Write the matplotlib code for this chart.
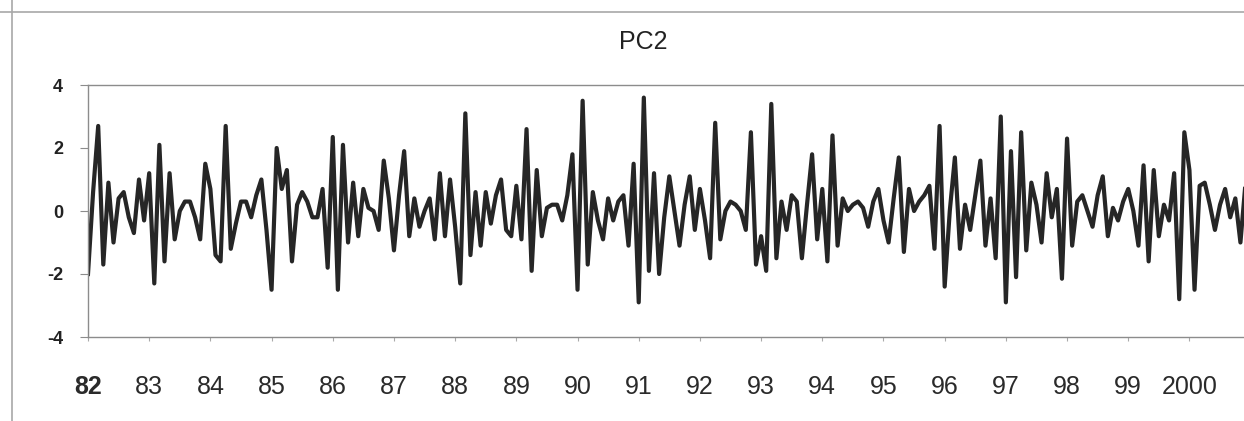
import numpy as np
import matplotlib.pyplot as plt
from matplotlib.lines import Line2D

# Arial-like font, like the scanned Excel chart
plt.rcParams['font.family'] = ['Liberation Sans', 'DejaVu Sans']

# PC2, monthly values (Jan 1982 onward)
pc2_82_85 = [-2.0, 0.6, 2.7, -1.7, 0.9, -1.0, 0.4, 0.6, -0.2, -0.7, 1.0, -0.3,
             1.2, -2.3, 2.1, -1.6, 1.2, -0.9, 0.0, 0.3, 0.3, -0.2, -0.9, 1.5,
             0.7, -1.4, -1.6, 2.7, -1.2, -0.4, 0.3, 0.3, -0.2, 0.5, 1.0, -0.6,
             -2.5, 2.0, 0.7, 1.3, -1.6, 0.2, 0.6, 0.3, -0.2, -0.2, 0.7, -1.8]
pc2_86_89 = [2.35, -2.5, 2.1, -1.0, 0.9, -0.8, 0.7, 0.1, 0.0, -0.6, 1.6, 0.4,
             -1.25, 0.5, 1.9, -0.8, 0.4, -0.5, 0.0, 0.4, -0.9, 1.2, -0.8, 1.0,
             -0.5, -2.3, 3.1, -1.4, 0.6, -1.1, 0.6, -0.4, 0.5, 1.0, -0.6, -0.8,
             0.8, -0.9, 2.6, -1.9, 1.3, -0.8, 0.1, 0.2, 0.2, -0.3, 0.5, 1.8]
pc2_90_93 = [-2.5, 3.5, -1.7, 0.6, -0.3, -0.9, 0.4, -0.3, 0.3, 0.5, -1.1, 1.5,
             -2.9, 3.6, -1.9, 1.2, -2.0, -0.2, 1.1, 0.0, -1.1, 0.2, 1.1, -0.6,
             0.7, -0.3, -1.5, 2.8, -0.9, 0.0, 0.3, 0.2, 0.0, -0.6, 2.5, -1.7,
             -0.8, -1.9, 3.4, -1.5, 0.3, -0.6, 0.5, 0.3, -1.5, 0.2, 1.8, -0.9]
pc2_94_97 = [0.7, -1.6, 2.4, -1.1, 0.4, 0.0, 0.2, 0.3, 0.1, -0.5, 0.3, 0.7,
             -0.3, -1.0, 0.4, 1.7, -1.3, 0.7, 0.0, 0.3, 0.5, 0.8, -1.2, 2.7,
             -2.4, 0.0, 1.7, -1.2, 0.2, -0.6, 0.5, 1.6, -1.1, 0.4, -1.5, 3.0,
             -2.9, 1.9, -2.1, 2.5, -1.25, 0.9, 0.2, -1.0, 1.2, -0.2, 0.7, -2.15]
pc2_98_00 = [2.3, -1.1, 0.3, 0.5, 0.0, -0.5, 0.5, 1.1, -0.8, 0.1, -0.3, 0.3,
             0.7, 0.0, -1.1, 1.45, -1.6, 1.3, -0.8, 0.2, -0.3, 1.2, -2.8, 2.5,
             1.3, -2.5, 0.8, 0.9, 0.2, -0.6, 0.2, 0.7, -0.2, 0.4, -1.0, 0.9]

year_labels = ['82', '83', '84', '85', '86', '87', '88', '89', '90', '91',
               '92', '93', '94', '95', '96', '97', '98', '99', '2000']
y_ticks = [-4, -2, 0, 2, 4]

pc2 = np.array(pc2_82_85 + pc2_86_89 + pc2_90_93 + pc2_94_97 + pc2_98_00)
months = np.arange(len(pc2))

W, H = 1244, 421
fig = plt.figure(figsize=(W / 100, H / 100), dpi=100)
ax = fig.add_axes([88 / W, 1 - 337 / H, 1 - 88 / W, 252 / H])

ax.plot(months, pc2, color='#262626', lw=3.0)

ax.set_ylim(-4, 4)
ax.set_xlim(0, 226.7)

ax.set_yticks(y_ticks)
ax.set_yticklabels([str(v) for v in y_ticks], fontsize=13, fontweight='bold', color='#222222')
ax.set_xticks(months[::12][:len(year_labels)])
ax.set_xticklabels(year_labels, fontsize=18, color='#2a2a2a')
ax.get_xticklabels()[0].set_fontweight('bold')

for side in ['top', 'bottom', 'left']:
	ax.spines[side].set_color('#8c8c8c')
	ax.spines[side].set_linewidth(1.0)
ax.spines['right'].set_visible(False)

ax.tick_params(axis='y', length=6, color='#8c8c8c', pad=12)
ax.tick_params(axis='x', length=3, color='#aaaaaa', pad=24)

# title
fig.text(643 / W, 1 - 42 / H, 'PC2', ha='center', va='center', fontsize=18, color='#222222')

# outer chart border (only top and left are in the picture)
fig.add_artist(Line2D([0, 1], [1 - 12 / H, 1 - 12 / H], transform=fig.transFigure, color='#a8a8a8', lw=1.2))
fig.add_artist(Line2D([12 / W, 12 / W], [0, 1], transform=fig.transFigure, color='#a8a8a8', lw=1.2))

fig.savefig('out.png', dpi=100)
